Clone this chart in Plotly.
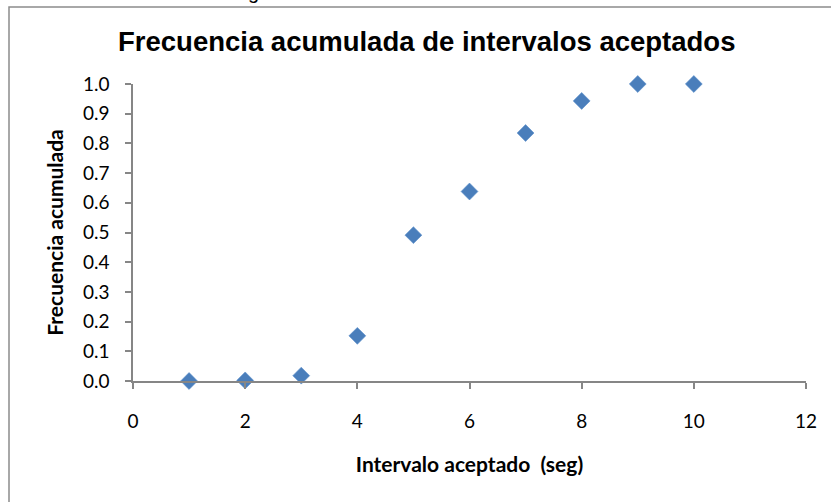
import plotly.graph_objects as go

# Cumulative frequency of accepted intervals
intervalo = [1, 2, 3, 4, 5, 6, 7, 8, 9, 10]
frecuencia_acum = [0.0, 0.002, 0.018, 0.152, 0.491, 0.638, 0.835, 0.943, 1.0, 1.0]
x_ticks = [0, 2, 4, 6, 8, 10, 12]
y_ticks = [0.0, 0.1, 0.2, 0.3, 0.4, 0.5, 0.6, 0.7, 0.8, 0.9, 1.0]

W, H = 831, 502
L, R, T, B = 133, 25, 84, 121
pw, ph = W - L - R, H - T - B

def px_x(p):
    return (p - L) / pw

def px_y(p):
    return (H - B - p) / ph

axis_color = "#868686"
tick_font = dict(family="Lato, 'Open Sans', sans-serif", size=19, color="#000000")
title_font = dict(family="Lato, 'Open Sans', sans-serif", size=21, color="#000000")

fig = go.Figure()
fig.add_trace(go.Scatter(
    x=intervalo, y=frecuencia_acum, mode="markers",
    marker=dict(symbol="diamond", size=13, color="#4A7EBB",
                line=dict(width=0.6, color="#5B8FCB")),
    cliponaxis=False, showlegend=False,
))

fig.update_layout(
    width=W, height=H,
    margin=dict(l=L, r=R, t=T, b=B),
    paper_bgcolor="white", plot_bgcolor="white",
    xaxis=dict(
        range=[0, 12], tickvals=x_ticks, ticktext=[str(v) for v in x_ticks],
        showgrid=False, zeroline=False, showline=True, linecolor=axis_color, linewidth=1.5,
        ticks="outside", ticklen=6, tickcolor=axis_color, tickwidth=1.5,
        tickfont=tick_font, ticklabelstandoff=16,
        title=dict(text="<b>Intervalo aceptado  (seg)</b>", font=title_font, standoff=27),
    ),
    yaxis=dict(
        range=[0, 1.0], tickvals=y_ticks, ticktext=[f"{v:.1f}" for v in y_ticks],
        showgrid=False, zeroline=False, showline=True, linecolor=axis_color, linewidth=1.5,
        ticks="outside", ticklen=6, tickcolor=axis_color, tickwidth=1.5,
        tickfont=tick_font, ticklabelstandoff=12,
        title=dict(text="<b>Frecuencia acumulada</b>", font=title_font, standoff=14),
    ),
    annotations=[
        dict(text="<b>Frecuencia acumulada de intervalos aceptados</b>",
             x=px_x(426), y=px_y(42), xref="paper", yref="paper",
             xanchor="center", yanchor="middle", showarrow=False,
             font=dict(family="'Liberation Sans', Arial, sans-serif", size=27.5, color="#000000")),
        dict(text="g", x=px_x(253), y=px_y(5), xref="paper", yref="paper",
             xanchor="center", yanchor="bottom", showarrow=False,
             font=dict(family="'Liberation Sans', Arial, sans-serif", size=20, color="#000000")),
    ],
    shapes=[
        dict(type="rect", xref="paper", yref="paper",
             x0=px_x(9), y0=px_y(560), x1=px_x(900), y1=px_y(7),
             line=dict(color="#8C8C8C", width=1.5), fillcolor="rgba(0,0,0,0)", layer="below"),
    ],
)

fig.write_html("out.html")
